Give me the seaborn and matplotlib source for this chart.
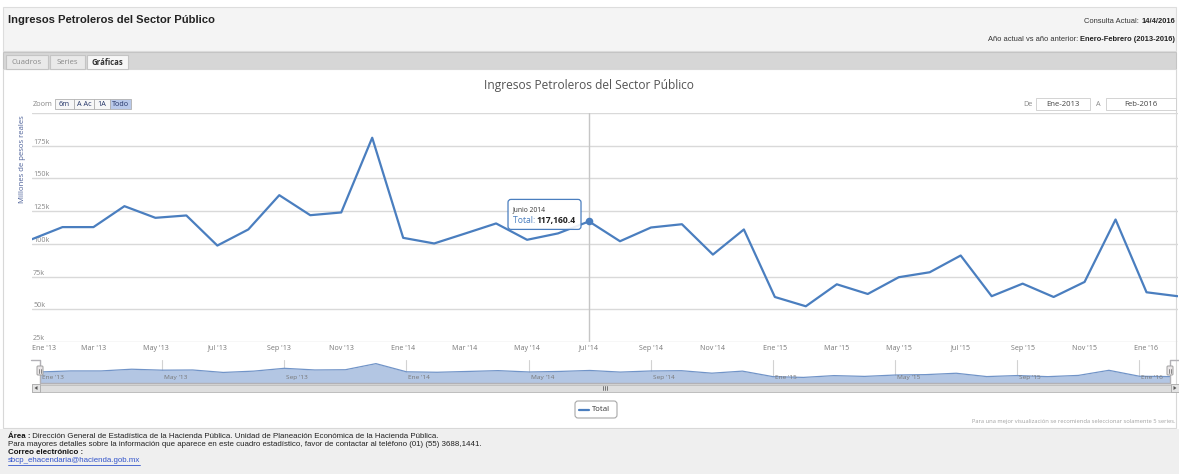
import matplotlib
matplotlib.use("Agg")
import matplotlib.pyplot as plt
import matplotlib.transforms as mtransforms
from matplotlib.patches import Rectangle, FancyBboxPatch, Polygon
import seaborn as sns
import pandas as pd

# ---------------- data ----------------
month_names = ["Ene", "Feb", "Mar", "Abr", "May", "Jun", "Jul", "Ago", "Sep", "Oct", "Nov", "Dic"]
years = [2013, 2014, 2015, 2016]
periods = [f"{m}-{y}" for y in years for m in month_names][:38]   # Ene-2013 .. Feb-2016

total = [103.4, 112.8, 112.8, 128.8, 119.9, 121.7, 98.7, 111.0, 137.2, 121.9, 124.0, 181.1,
         104.6, 100.3, 107.9, 115.6, 103.1, 108.0, 117.1604, 102.0, 112.5, 115.0, 91.8, 111.0,
         59.4, 52.3, 69.1, 61.7, 74.5, 78.3, 91.1, 60.0, 69.6, 59.4, 70.9, 118.6, 63.0, 60.0]
total = [v * 1000 for v in total]

x_tick_labels = ["Ene '13", "Mar '13", "May '13", "Jul '13", "Sep '13", "Nov '13",
                 "Ene '14", "Mar '14", "May '14", "Jul '14", "Sep '14", "Nov '14",
                 "Ene '15", "Mar '15", "May '15", "Jul '15", "Sep '15", "Nov '15", "Ene '16"]
nav_labels = ["Ene '13", "May '13", "Sep '13", "Ene '14", "May '14", "Sep '14",
              "Ene '15", "May '15", "Sep '15", "Ene '16"]
y_ticks = [25000, 50000, 75000, 100000, 125000, 150000, 175000, 200000]
y_tick_labels = ["25k", "50k", "75k", "100k", "125k", "150k", "175k", ""]

tooltip_index = 18
tooltip_title = "Junio 2014"
tooltip_value = "117,160.4"

df = pd.DataFrame({"idx": range(len(total)), "periodo": periods, "Total": total})

# ---------------- style ----------------
sns.set_style("white")
plt.rcParams["font.family"] = ["Open Sans", "DejaVu Sans"]
W, H = 1179, 474
def P(px):
    return px * 0.72

LINE = "#4a7ebf"
ARIAL = ["Liberation Sans", "DejaVu Sans"]

fig = plt.figure(figsize=(W / 100, H / 100), dpi=100)
fig.patch.set_facecolor("white")

bg = fig.add_axes([0, 0, 1, 1], zorder=0)
bg.set_xlim(0, W); bg.set_ylim(H, 0); bg.axis("off")
ov = fig.add_axes([0, 0, 1, 1], zorder=5)
ov.set_xlim(0, W); ov.set_ylim(H, 0); ov.axis("off"); ov.patch.set_alpha(0)

def rect(a, x0, y0, x1, y1, fc, ec="none", lw=0.8, rs=0, z=1):
    if rs:
        p = FancyBboxPatch((x0, y0), x1 - x0, y1 - y0,
                           boxstyle=f"round,pad=0,rounding_size={rs}",
                           fc=fc, ec=ec, lw=lw, zorder=z)
    else:
        p = Rectangle((x0, y0), x1 - x0, y1 - y0, fc=fc, ec=ec, lw=lw, zorder=z)
    a.add_patch(p)
    return p

renderer = fig.canvas.get_renderer()
def width_px(t):
    return t.get_window_extent(renderer).width

def rich(a, x, y, parts, size, align="left", family=ARIAL, va="center", z=3):
    # parts: list of (text, weight, color)
    cx = x
    seq = parts if align == "left" else list(reversed(parts))
    for s, w, c in seq:
        t = a.text(cx, y, s, fontsize=P(size), weight=w, color=c, family=family,
                   ha=align, va=va, zorder=z)
        cx = cx + width_px(t) if align == "left" else cx - width_px(t)

# ---------------- page chrome ----------------
rect(bg, 3, 7, 1176, 51, "#f4f4f4", "#dddddd")
bg.text(8, 20, "Ingresos Petroleros del Sector Público", fontsize=P(11.2), weight="bold",
        family=ARIAL, color="#222222", va="center")
rich(bg, 1175, 21, [("Consulta Actual: ", "normal", "#333333"), ("14/4/2016", "bold", "#222222")],
     7.5, align="right")
rich(bg, 1175, 39, [("Año actual vs año anterior: ", "normal", "#333333"),
                    ("Enero-Febrero (2013-2016)", "bold", "#222222")], 7.5, align="right")

# tab bar
rect(bg, 3, 52, 1176, 69, "#d6d6d6", "#c4c4c4")
for (x0, x1, label, active) in [(6, 48, "Cuadros", False), (50, 85, "Series", False), (87, 128, "Gráficas", True)]:
    rect(bg, x0, 55, x1, 69, "#f7f7f7" if active else "#e9e9e9", "#c4c4c4", z=2)
    bg.text((x0 + x1) / 2, 62.5, label, fontsize=P(7.8), ha="center", va="center",
            color="#333333" if active else "#8a8a8a", weight="bold" if active else "normal", zorder=3)

# chart container + footer
rect(bg, 3, 69, 1176, 428, "white", "#d8d8d8")
rect(bg, 0, 429, W, H, "#efefef", "none")

bg.text(589, 85, "Ingresos Petroleros del Sector Público", fontsize=P(12), color="#555555",
        ha="center", va="center")

# zoom buttons
bg.text(33, 104, "Zoom", fontsize=P(7.5), color="#888888", va="center")
for (x0, x1, label, sel) in [(55, 74, "6m", False), (74, 94, "A Ac", False), (94, 110, "1A", False), (110, 131, "Todo", True)]:
    rect(bg, x0, 99, x1, 109, "#b9c9ea" if sel else "#f7f7f7", "#b0b0b0", lw=0.6, z=2)
    bg.text((x0 + x1) / 2, 104, label, fontsize=P(7.3), ha="center", va="center",
            color="#223366", zorder=3)

# date range inputs
bg.text(1028, 104, "De", fontsize=P(7.3), color="#888888", ha="center", va="center")
rect(bg, 1036, 98, 1090, 110, "white", "#cccccc", lw=0.6, z=2)
bg.text(1063, 104, periods[0], fontsize=P(7.8), color="#444444", ha="center", va="center", zorder=3)
bg.text(1098, 104, "A", fontsize=P(7.3), color="#888888", ha="center", va="center")
rect(bg, 1106, 98, 1176, 110, "white", "#cccccc", lw=0.6, z=2)
bg.text(1141, 104, periods[-1], fontsize=P(7.8), color="#444444", ha="center", va="center", zorder=3)

# y-axis title
bg.text(22.5, 159, "Millones de pesos reales", rotation=90, fontsize=P(7.8), color="#4d6199",
        ha="center", va="center", zorder=3)

# ---------------- main plot ----------------
L, R_, T, B = 31.5, 1177.5, 113, 342
ax = fig.add_axes([L / W, 1 - B / H, (R_ - L) / W, (B - T) / H], zorder=2)
ax.patch.set_alpha(0)
sns.lineplot(data=df, x="idx", y="Total", ax=ax, color=LINE, linewidth=1.6, legend=False)
ax.set_xlim(0, len(total) - 1)
ax.set_ylim(y_ticks[0], y_ticks[-1])
for s in ax.spines.values():
    s.set_visible(False)
ax.set_xlabel(""); ax.set_ylabel("")
ax.set_yticks(y_ticks)
ax.set_yticklabels(y_tick_labels)
ax.yaxis.grid(True, color="#d9d9d9", linewidth=1)
ax.set_axisbelow(True)
ax.tick_params(axis="y", length=0, pad=-1.2, labelsize=P(7.3), labelcolor="#888888")
for lab in ax.get_yticklabels():
    lab.set_ha("left"); lab.set_va("bottom")
ax.set_xticks(range(0, len(total), 2))
ax.set_xticklabels(x_tick_labels)
ax.tick_params(axis="x", length=0, pad=1.8, labelsize=P(7.2), labelcolor="#777777")
ax.get_xticklabels()[0].set_ha("left")

# crosshair + hover marker
ax.axvline(tooltip_index, color="#c6c6c6", linewidth=1, zorder=1)
ax.scatter([tooltip_index], [total[tooltip_index]], s=30, color=LINE, zorder=4, linewidths=0)

# tooltip (positioned relative to the hovered point)
px, py = ax.transData.transform((tooltip_index, total[tooltip_index]))
X, Y = px, H - py
rect(ov, X - 81, Y - 22, X - 8, Y + 8, (1, 1, 1, 0.9), LINE, lw=0.9, rs=3, z=2)
ov.text(X - 76.5, Y - 11.5, tooltip_title, fontsize=P(6.8), color="#333333", va="center", zorder=3)
rich(ov, X - 76.5, Y - 0.5, [("Total: ", "normal", LINE), (tooltip_value, "bold", "#222222")],
     8.6, family=["Open Sans", "DejaVu Sans"])

# ---------------- navigator ----------------
NL, NR, NT, NB = 40, 1170, 360, 383
nav = fig.add_axes([NL / W, 1 - NB / H, (NR - NL) / W, (NB - NT) / H], zorder=2)
nav.patch.set_alpha(0)
nav.fill_between(df["idx"], df["Total"], 0, color="#b3c6e3", linewidth=0, zorder=2)
sns.lineplot(data=df, x="idx", y="Total", ax=nav, color="#7194c8", linewidth=0.9, legend=False, zorder=3)
nav.set_xlim(0, len(total) - 1)
nav.set_ylim(0, 215000)
nav.axis("off")
for i, lab in zip(range(0, len(total), 4), nav_labels):
    nav.axvline(i, color="#d2d2d2", linewidth=0.8, zorder=1)
    tr = mtransforms.offset_copy(mtransforms.blended_transform_factory(nav.transData, nav.transAxes),
                                 fig=fig, x=2, y=0, units="dots")
    nav.text(i, 0.25, lab, transform=tr, fontsize=P(6.5), color="#777777", va="center", zorder=4)

# navigator outline, handles, scrollbar
ov.plot([31, NL, NL, NR, NR, 1179], [NT, NT, NB, NB, NT, NT], color="#b2b1b6", lw=1, zorder=2)
for hx in (NL, NR):
    rect(ov, hx - 3, 366, hx + 3, 375, "#ebe7e8", "#a0a0a0", lw=0.7, rs=1, z=3)
    ov.plot([hx - 1, hx - 1], [368.5, 372.5], color="#777777", lw=0.6, zorder=4)
    ov.plot([hx + 1, hx + 1], [368.5, 372.5], color="#777777", lw=0.6, zorder=4)
rect(ov, 32, 384, 1178, 392, "#eeeeee", "#cccccc", lw=0.6, z=2)
rect(ov, 40, 384.5, 1171, 391.5, "#dedede", "#bbbbbb", lw=0.6, z=2)
for dx in (-2, 0, 2):
    ov.plot([605 + dx, 605 + dx], [386, 390], color="#666666", lw=0.6, zorder=3)
rect(ov, 32, 384, 40, 392, "#e4e4e4", "#aaaaaa", lw=0.6, z=3)
ov.add_patch(Polygon([[37.5, 386], [37.5, 390], [34.5, 388]], closed=True, fc="#555555", ec="none", zorder=4))
rect(ov, 1171, 384, 1179, 392, "#e4e4e4", "#aaaaaa", lw=0.6, z=3)
ov.add_patch(Polygon([[1173.5, 386], [1173.5, 390], [1176.5, 388]], closed=True, fc="#555555", ec="none", zorder=4))

# legend
rect(ov, 575, 401, 617, 418, "white", "#a8a8a8", lw=0.8, rs=3, z=2)
ov.plot([579, 589], [409.5, 409.5], color=LINE, lw=1.6, zorder=3)
ov.text(592, 409.5, "Total", fontsize=P(7.8), color="#333333", va="center", zorder=3)

ov.text(1175, 421, "Para una mejor visualización se recomienda seleccionar solamente 5 series.",
        fontsize=P(5.8), color="#a0a0a0", ha="right", va="center", zorder=3)

# ---------------- footer ----------------
FS = 7.9
rich(bg, 8, 437, [("Área :", "bold", "#111111"),
                  (" Dirección General de Estadística de la Hacienda Pública. Unidad de Planeación Económica de la Hacienda Pública.", "normal", "#222222")], FS)
bg.text(8, 444.5, "Para mayores detalles sobre la información que aparece en este cuadro estadístico, favor de contactar al teléfono (01) (55) 3688,1441.",
        fontsize=P(FS), family=ARIAL, color="#222222", va="center")
bg.text(8, 452, "Correo electrónico :", fontsize=P(FS), family=ARIAL, weight="bold", color="#111111", va="center")
lk = bg.text(8, 461, "sbcp_ehacendaria@hacienda.gob.mx", fontsize=P(FS), family=ARIAL, color="#3355cc", va="center")
lw_ = width_px(lk)
bg.plot([8, 8 + lw_], [464.8, 464.8], color="#3355cc", lw=0.6)

fig.savefig("out.png", dpi=100, facecolor=fig.get_facecolor())
